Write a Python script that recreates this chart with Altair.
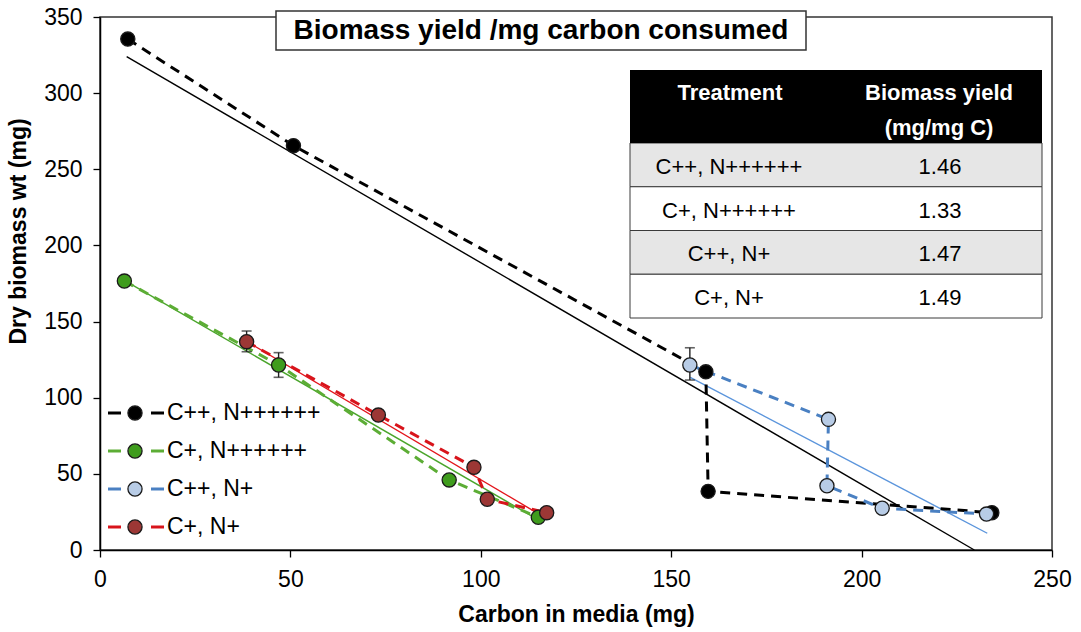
import altair as alt
import pandas as pd

# ---------------- data ----------------
series_names = ["C++, N++++++", "C+, N++++++", "C++, N+", "C+, N+"]

black_x = [7.3, 50.8, 159.1, 159.7, 234.2]
black_y = [335.5, 265.5, 117.0, 38.5, 24.5]
green_x = [6.4, 46.9, 91.7, 115.1]
green_y = [176.6, 121.5, 46.0, 21.5]
blue_x = [154.9, 191.3, 190.9, 205.4, 232.8]
blue_y = [121.5, 85.8, 42.2, 27.4, 23.6]
red_x = [38.5, 73.1, 98.2, 101.7, 117.3]
red_y = [136.8, 88.6, 54.3, 33.3, 24.5]

# linear trend lines (end points)
trend_x = [[7.0, 229.6], [6.4, 115.0], [155.0, 233.0], [38.5, 116.0]]
trend_y = [[324.0, 0.0], [177.0, 20.0], [113.4, 11.0], [137.0, 22.5]]

# error bars
err_series = ["C++, N+", "C+, N++++++", "C+, N+"]
err_x = [154.9, 46.9, 38.5]
err_lo = [111.6, 113.4, 130.2]
err_hi = [132.8, 129.6, 143.8]

# inset table
table_treatments = ["C++, N++++++", "C+, N++++++", "C++, N+", "C+, N+"]
table_yields = [1.46, 1.33, 1.47, 1.49]

x_ticks = [0, 50, 100, 150, 200, 250]
y_ticks = [0, 50, 100, 150, 200, 250, 300, 350]

# ---------------- styles ----------------
point_fill = ["#000000", "#3f9c1d", "#b8cce6", "#9c3735"]
dash_color = ["#000000", "#5cad35", "#4a80c2", "#d8141b"]
trend_color = ["#000000", "#4aa52b", "#5b95dc", "#e3151b"]
FONT = "Liberation Sans"

# ---------------- tables ----------------
rows = []
for name, xs, ys in zip(series_names, [black_x, green_x, blue_x, red_x],
                        [black_y, green_y, blue_y, red_y]):
    for i, (xv, yv) in enumerate(zip(xs, ys)):
        rows.append({"series": name, "idx": i, "x": xv, "y": yv})
pts = pd.DataFrame(rows)

trows = []
for name, xs, ys in zip(series_names, trend_x, trend_y):
    for i, (xv, yv) in enumerate(zip(xs, ys)):
        trows.append({"series": name, "idx": i, "x": xv, "y": yv})
trend = pd.DataFrame(trows)

err = pd.DataFrame({"series": err_series, "x": err_x, "lo": err_lo, "hi": err_hi})
leg = pd.DataFrame({"series": series_names})
tab = pd.DataFrame({"treatment": table_treatments, "yld": table_yields})
one = pd.DataFrame({"a": [0]})

xscale = alt.Scale(domain=[0, 250], nice=False, zero=False, padding=0)
yscale = alt.Scale(domain=[0, 350], nice=False, padding=0)

xaxis = alt.Axis(values=x_ticks, title="Carbon in media (mg)", grid=False,
                 labelFontSize=23, labelPadding=11, labelFlush=False, titleFontSize=23,
                 titleFontWeight="bold", titleX=476, titleY=64,
                 titleBaseline="middle", tickSize=7)
yaxis = alt.Axis(values=y_ticks, title="Dry biomass wt (mg)", grid=False,
                 labelFontSize=23, labelPadding=11, labelFlush=False, titleFontSize=23,
                 titleFontWeight="bold", titleX=-82, titleY=214,
                 titleAngle=270, titleAlign="center", titleBaseline="middle",
                 tickSize=7)


def X(field="x"):
    return alt.X(f"{field}:Q", scale=xscale, axis=xaxis)


def Y(field="y"):
    return alt.Y(f"{field}:Q", scale=yscale, axis=yaxis)


color_dash = alt.Color("series:N", scale=alt.Scale(domain=series_names, range=dash_color), legend=None)
stroke_trend = alt.Stroke("series:N", scale=alt.Scale(domain=series_names, range=trend_color), legend=None)
fill_pt = alt.Fill("series:N", scale=alt.Scale(domain=series_names, range=point_fill), legend=None)

trend_layer = alt.Chart(trend).mark_line(strokeWidth=1.4).encode(
    x=X(), y=Y(), stroke=stroke_trend, detail="series:N", order="idx:Q")

dash_layer = alt.Chart(pts).mark_line(strokeWidth=3, strokeDash=[10, 7]).encode(
    x=X(), y=Y(), color=color_dash, detail="series:N", order="idx:Q")

err_rule = alt.Chart(err).mark_rule(color="#222222", strokeWidth=1.4).encode(
    x=X(), y=Y("lo"), y2="hi:Q")
err_cap_lo = alt.Chart(err).mark_tick(color="#222222", orient="horizontal", size=10, thickness=1.6).encode(
    x=X(), y=Y("lo"))
err_cap_hi = alt.Chart(err).mark_tick(color="#222222", orient="horizontal", size=10, thickness=1.6).encode(
    x=X(), y=Y("hi"))

point_layer = alt.Chart(pts).mark_circle(size=200, opacity=1, stroke="#1a1a1a", strokeWidth=1.3).encode(
    x=X(), y=Y(), fill=fill_pt)

data_group = alt.layer(trend_layer, dash_layer, err_rule, err_cap_lo, err_cap_hi, point_layer)

# ---------------- legend (inside plot, lower left) ----------------
ly = alt.Y("series:N", scale=alt.Scale(type="point", domain=series_names, range=[396, 510], padding=0), axis=None)
leg_d1 = alt.Chart(leg).mark_rule(strokeWidth=3).encode(
    x=alt.value(8), x2=alt.value(21), y=ly, color=color_dash)
leg_d2 = alt.Chart(leg).mark_rule(strokeWidth=3).encode(
    x=alt.value(51), x2=alt.value(64), y=ly, color=color_dash)
leg_c = alt.Chart(leg).mark_circle(size=200, opacity=1, stroke="#1a1a1a", strokeWidth=1.3).encode(
    x=alt.value(35), y=ly, fill=fill_pt)
leg_t = alt.Chart(leg).mark_text(align="left", baseline="middle", fontSize=23, font=FONT, color="#000").encode(
    x=alt.value(67), y=ly, text="series:N")
legend_group = alt.layer(leg_d1, leg_d2, leg_c, leg_t)

# ---------------- inset table ----------------
ty = alt.Y("treatment:N", scale=alt.Scale(type="band", domain=table_treatments, range=[126, 301],
                                          paddingInner=0, paddingOuter=0), axis=None)
tab_rect = alt.Chart(tab).transform_window(rn="row_number()").mark_rect(
    stroke="#3a3a3a", strokeWidth=1).encode(
    x=alt.value(530), x2=alt.value(942), y=ty,
    fill=alt.condition("datum.rn % 2 == 1", alt.value("#e6e6e6"), alt.value("#ffffff")))
tab_t1 = alt.Chart(tab).mark_text(fontSize=22, font=FONT, color="#000", baseline="middle", dy=2).encode(
    x=alt.value(629), y=ty, text="treatment:N")
tab_t2 = alt.Chart(tab).mark_text(fontSize=22, font=FONT, color="#000", baseline="middle", dy=2).encode(
    x=alt.value(840), y=ty, text=alt.Text("yld:Q", format=".2f"))
table_group = alt.layer(tab_rect, tab_t1, tab_t2)

head_rect = alt.Chart(one).mark_rect(fill="#000000").encode(
    x=alt.value(530), x2=alt.value(942), y=alt.value(53), y2=alt.value(126))
head_t1 = alt.Chart(one).mark_text(fontSize=22, fontWeight="bold", font=FONT, color="#ffffff",
                                   baseline="middle", text="Treatment").encode(
    x=alt.value(630), y=alt.value(76))
head_t2 = alt.Chart(one).mark_text(fontSize=22, fontWeight="bold", font=FONT, color="#ffffff",
                                   baseline="middle", text="Biomass yield").encode(
    x=alt.value(839), y=alt.value(76))
head_t3 = alt.Chart(one).mark_text(fontSize=22, fontWeight="bold", font=FONT, color="#ffffff",
                                   baseline="middle", text="(mg/mg C)").encode(
    x=alt.value(839), y=alt.value(111))

# ---------------- boxed title ----------------
title_rect = alt.Chart(one).mark_rect(fill="#ffffff", stroke="#333333", strokeWidth=1.5).encode(
    x=alt.value(176), x2=alt.value(706), y=alt.value(-6), y2=alt.value(33))
title_text = alt.Chart(one).mark_text(fontSize=28, fontWeight="bold", font=FONT, color="#000",
                                      baseline="middle", text="Biomass yield /mg carbon consumed").encode(
    x=alt.value(441), y=alt.value(14))

chart = alt.layer(
    data_group, legend_group, table_group, head_rect, head_t1, head_t2, head_t3,
    title_rect, title_text
).resolve_scale(y="independent").properties(
    width=952, height=533,
    padding={"left": 100, "top": 17, "right": 29, "bottom": 82},
    autosize=alt.AutoSizeParams(type="none"),
    background="#ffffff",
).configure(font=FONT).configure_view(
    stroke="#333333", strokeWidth=1.5
).configure_axis(
    domainColor="#000000", domainWidth=1.5, tickColor="#000000", tickWidth=1.3,
    labelColor="#000000", titleColor="#000000", labelFont=FONT, titleFont=FONT
)

chart.save("out.html", embed_options={"renderer": "svg", "actions": False})
